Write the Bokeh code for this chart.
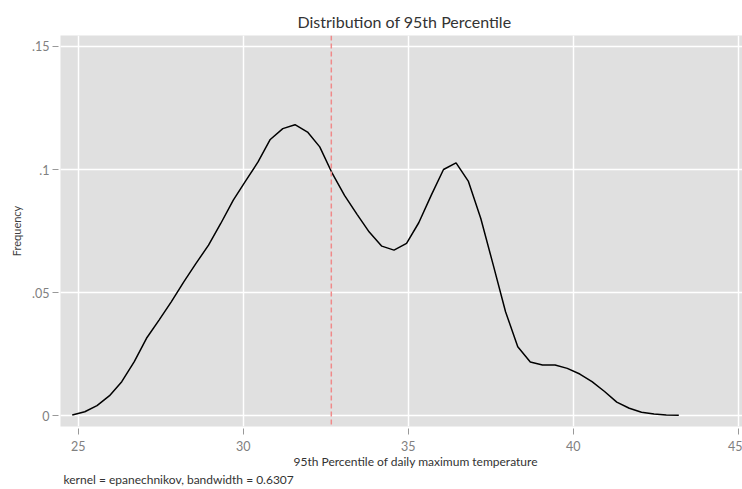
from bokeh.plotting import figure
from bokeh.models import Span, Title, Range1d, FixedTicker
from bokeh.embed import file_html
from bokeh.resources import INLINE

# Kernel density estimate points
temp_x = [24.82, 25.20, 25.57, 25.95, 26.32, 26.70, 27.07, 27.45, 27.82, 28.20,
          28.57, 28.95, 29.32, 29.70, 30.07, 30.45, 30.82, 31.20, 31.57, 31.95,
          32.32, 32.70, 33.07, 33.45, 33.82, 34.20, 34.57, 34.95, 35.32, 35.70,
          36.07, 36.45, 36.82, 37.20, 37.57, 37.95, 38.32, 38.70, 39.07, 39.45,
          39.82, 40.20, 40.57, 40.95, 41.32, 41.70, 42.07, 42.45, 42.82, 43.20]
density = [0.0004, 0.0017, 0.0042, 0.0082, 0.0139, 0.0220, 0.0315, 0.0389, 0.0463, 0.0544,
           0.0619, 0.0693, 0.0781, 0.0876, 0.0953, 0.1031, 0.1122, 0.1166, 0.1182, 0.1152,
           0.1092, 0.0984, 0.0895, 0.0818, 0.0746, 0.0689, 0.0673, 0.0700, 0.0784, 0.0896,
           0.1000, 0.1027, 0.0953, 0.0801, 0.0616, 0.0423, 0.0281, 0.0219, 0.0207, 0.0207,
           0.0193, 0.0170, 0.0139, 0.0099, 0.0056, 0.0031, 0.0015, 0.0008, 0.0004, 0.0003]
ref_line_x = 32.67

x_ticks = [25, 30, 35, 40, 45]
y_ticks = [0, 0.05, 0.1, 0.15]
y_tick_labels = ["0", ".05", ".1", ".15"]

title_text = "Distribution of 95th Percentile"
x_title = "95th Percentile of daily maximum temperature"
y_title = "Frequency"
note_text = "kernel = epanechnikov, bandwidth = 0.6307"

FONT = "Lato"

p = figure(width=742, height=489, output_backend="svg", toolbar_location=None,
           x_range=Range1d(24.464, 45.13), y_range=Range1d(-0.0043, 0.1544),
           min_border_left=60, min_border_right=0, min_border_top=35, min_border_bottom=0)

p.background_fill_color = "#e0e0e0"
p.border_fill_color = "white"
p.outline_line_color = None

p.title.text = title_text
p.title.align = "left"
p.title.offset = 237
p.title.text_font = FONT
p.title.text_font_size = "16px"
p.title.text_font_style = "normal"
p.title.text_color = "#333333"

p.line(temp_x, density, line_color="black", line_width=1.5)
p.add_layout(Span(location=ref_line_x, dimension="height", line_color="#f08a8a",
                  line_dash="5 3", line_width=1.5))

p.xgrid.grid_line_color = "white"
p.ygrid.grid_line_color = "white"
p.xgrid.grid_line_width = 1.5
p.ygrid.grid_line_width = 1.5

p.xaxis.ticker = FixedTicker(ticks=x_ticks)
p.yaxis.ticker = FixedTicker(ticks=y_ticks)
p.yaxis.major_label_overrides = {t: l for t, l in zip(y_ticks, y_tick_labels)}

for ax in (p.xaxis, p.yaxis):
    ax.axis_line_color = None
    ax.minor_tick_line_color = None
    ax.major_tick_line_color = "#999999"
    ax.major_tick_in = -2
    ax.major_tick_out = 8
    ax.major_label_text_font = FONT
    ax.major_label_text_font_size = "12.5px"
    ax.major_label_text_color = "#808080"

p.xaxis.major_label_standoff = 6
p.yaxis.major_label_standoff = 3

p.yaxis.axis_label = y_title
p.yaxis.axis_label_text_font = FONT
p.yaxis.axis_label_text_font_size = "11px"
p.yaxis.axis_label_text_font_style = "normal"
p.yaxis.axis_label_text_color = "#404040"
p.yaxis.axis_label_standoff = 6

x_title_model = Title(text=x_title, align="left", offset=233, standoff=-3,
                      text_font=FONT, text_font_size="12px", text_font_style="normal",
                      text_color="#333333")
note_model = Title(text=note_text, align="left", offset=3, standoff=5,
                   text_font=FONT, text_font_size="12px", text_font_style="normal",
                   text_color="#333333")
p.add_layout(x_title_model, "below")
p.add_layout(note_model, "below")

open("out.html", "w").write(file_html(p, INLINE))
